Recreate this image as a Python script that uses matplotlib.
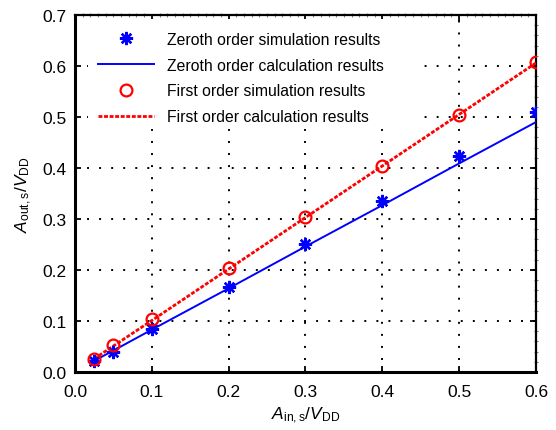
import matplotlib
matplotlib.use("Agg")
import matplotlib.pyplot as plt
from matplotlib.patches import Rectangle

# Data
x_vals = [0.025, 0.05, 0.1, 0.2, 0.3, 0.4, 0.5, 0.6]
zeroth_sim = [0.022, 0.040, 0.084, 0.166, 0.250, 0.335, 0.423, 0.509]
zeroth_calc = [0.022, 0.042, 0.083, 0.164, 0.246, 0.327, 0.409, 0.490]
first_sim = [0.026, 0.053, 0.103, 0.203, 0.304, 0.403, 0.504, 0.607]
first_calc = [0.026, 0.051, 0.101, 0.202, 0.303, 0.404, 0.505, 0.606]

x_ticks = [0.0, 0.1, 0.2, 0.3, 0.4, 0.5, 0.6]
y_ticks = [0.0, 0.1, 0.2, 0.3, 0.4, 0.5, 0.6, 0.7]

plt.rcParams["font.family"] = ["Liberation Sans", "DejaVu Sans"]
plt.rcParams["mathtext.fontset"] = "custom"
plt.rcParams["mathtext.rm"] = "Liberation Sans"
plt.rcParams["mathtext.it"] = "Liberation Sans:italic"

fig = plt.figure(figsize=(5.56, 4.31), dpi=100)
ax = fig.add_axes([0.1349, 0.1346, 0.964 - 0.1349, 0.9629 - 0.1346])

ax.set_xlim(0, 0.6)
ax.set_ylim(0, 0.7)
ax.set_xticks(x_ticks)
ax.set_xticklabels(["%.1f" % v for v in x_ticks])
ax.set_yticks(y_ticks)
ax.set_yticklabels(["%.1f" % v for v in y_ticks])
ax.set_xticks([i / 100 for i in range(61)], minor=True)
ax.set_yticks([i / 50 for i in range(36)], minor=True)

ax.set_axisbelow(True)
ax.grid(True, which="major", color="black", linestyle=(0, (1, 5.2)), linewidth=1.4)

# white block behind the legend
ax.add_patch(Rectangle((0.028, 0.68), 0.725, 0.31, transform=ax.transAxes,
                       facecolor="white", edgecolor="none", zorder=1))

ax.plot(x_vals, zeroth_sim, linestyle="none", marker=(8, 2, 0), markersize=9.5,
        markeredgewidth=1.7, color="blue", label="Zeroth order simulation results", zorder=4)
ax.plot(x_vals, zeroth_calc, color="blue", linewidth=1.4,
        label="Zeroth order calculation results", zorder=3)
ax.plot(x_vals, first_sim, linestyle="none", marker="o", markersize=8.5,
        markerfacecolor="none", markeredgewidth=1.6, color="red",
        label="First order simulation results", zorder=4)
ax.plot(x_vals, first_calc, color="red", linewidth=2.0, linestyle=(0, (1.4, 0.6)),
        label="First order calculation results", zorder=3)

leg = ax.legend(loc="upper left", bbox_to_anchor=(0.05, 0.953), frameon=False,
                fontsize=11.3, handlelength=3.57, handletextpad=0.83, labelspacing=0.69,
                borderaxespad=0, borderpad=0)

for side in ["left", "bottom"]:
    ax.spines[side].set_linewidth(2.2)
for side in ["top", "right"]:
    ax.spines[side].set_linewidth(1.6)

ax.tick_params(which="major", direction="in", length=4, width=1.3,
               top=True, right=True, labelsize=12.5, colors="black")
ax.tick_params(axis="x", which="major", pad=9)
ax.tick_params(axis="y", which="major", pad=6)
ax.tick_params(which="minor", direction="inout", length=3, width=0.8, color="0.5",
               top=True, right=True, bottom=False, left=False)

ax.set_xlabel(r"$A_{\mathrm{in,s}}/V_{\mathrm{DD}}$", fontsize=12.5, labelpad=4)
ax.set_ylabel(r"$A_{\mathrm{out,s}}/V_{\mathrm{DD}}$", fontsize=12.5, labelpad=6)

fig.savefig("out.png", dpi=100)
plt.close(fig)
